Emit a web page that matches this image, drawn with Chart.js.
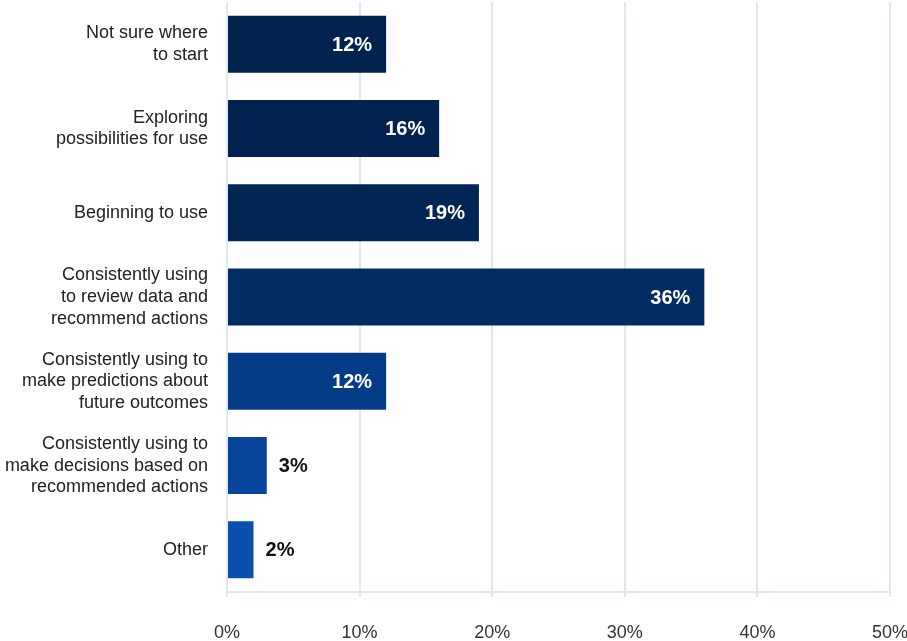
<!DOCTYPE html>
<html>
<head>
<meta charset="utf-8">
<script src="https://cdn.jsdelivr.net/npm/chart.js@4/dist/chart.umd.min.js"></script>
<style>
  html, body { margin: 0; padding: 0; background: #ffffff; }
  #wrap { width: 907px; height: 641px; position: relative; }
</style>
</head>
<body>
<div id="wrap"><canvas id="c"></canvas></div>
<script>
// Stages of adoption, one bar per stage (share of respondents, %)
const categories = [
  ['Not sure where', 'to start'],
  ['Exploring', 'possibilities for use'],
  ['Beginning to use'],
  ['Consistently using', 'to review data and', 'recommend actions'],
  ['Consistently using to', 'make predictions about', 'future outcomes'],
  ['Consistently using to', 'make decisions based on', 'recommended actions'],
  ['Other']
];
const shares = [12, 16, 19, 36, 12, 3, 2];
const barColors = ['#02234e', '#02234f', '#022654', '#032d62', '#053c88', '#07459c', '#0a4fae'];
const xTicks = [0, 10, 20, 30, 40, 50];

const FONT = "'Liberation Sans', Arial, Helvetica, sans-serif";
const GRID = '#dfe8f4';

// Writes each value at the end of its bar: inside in white for long bars, outside in black for short ones
const valueLabels = {
  id: 'valueLabels',
  afterDatasetsDraw(chart) {
    const ctx = chart.ctx;
    const meta = chart.getDatasetMeta(0);
    ctx.save();
    ctx.font = 'bold 20px ' + FONT;
    ctx.textBaseline = 'middle';
    meta.data.forEach((bar, i) => {
      const v = shares[i];
      const text = v + '%';
      if (v >= 10) {
        ctx.fillStyle = '#ffffff';
        ctx.textAlign = 'right';
        ctx.fillText(text, bar.x - 14, bar.y + 1);
      } else {
        ctx.fillStyle = '#111111';
        ctx.textAlign = 'left';
        ctx.fillText(text, bar.x + 12, bar.y + 1);
      }
    });
    ctx.restore();
  }
};

new Chart(document.getElementById('c'), {
  type: 'bar',
  data: {
    labels: categories,
    datasets: [{
      data: shares,
      backgroundColor: barColors,
      borderWidth: 0,
      categoryPercentage: 1,
      barPercentage: 0.676
    }]
  },
  options: {
    indexAxis: 'y',
    responsive: true,
    maintainAspectRatio: false,
    animation: false,
    layout: { padding: { top: 2, right: 0, bottom: 0, left: 0 } },
    plugins: {
      legend: { display: false },
      tooltip: { enabled: false }
    },
    scales: {
      x: {
        min: 0,
        max: 50,
        afterBuildTicks(scale) { scale.ticks = xTicks.map(v => ({ value: v })); },
        afterFit(scale) {
          // keep the plot wide: only half of the last tick label hangs past the plot
          scale.height = 49;
          scale.paddingLeft = 0;
          scale.paddingRight = 17;
        },
        grid: {
          color: GRID,
          lineWidth: 2,
          drawTicks: true,
          tickLength: 5
        },
        border: { display: true, color: GRID, width: 2 },
        ticks: {
          padding: 25,
          color: '#333333',
          font: { family: FONT, size: 18 },
          maxRotation: 0,
          callback: v => v + '%'
        }
      },
      y: {
        grid: { display: false, drawTicks: false },
        border: { display: false },
        afterFit(scale) {
          scale.width = 227;
          scale.paddingTop = 0;
          scale.paddingBottom = 0;
        },
        ticks: {
          padding: 19,
          color: '#222222',
          font: { family: FONT, size: 18, lineHeight: 1.2 }
        }
      }
    }
  },
  plugins: [valueLabels]
});
</script>
</body>
</html>
